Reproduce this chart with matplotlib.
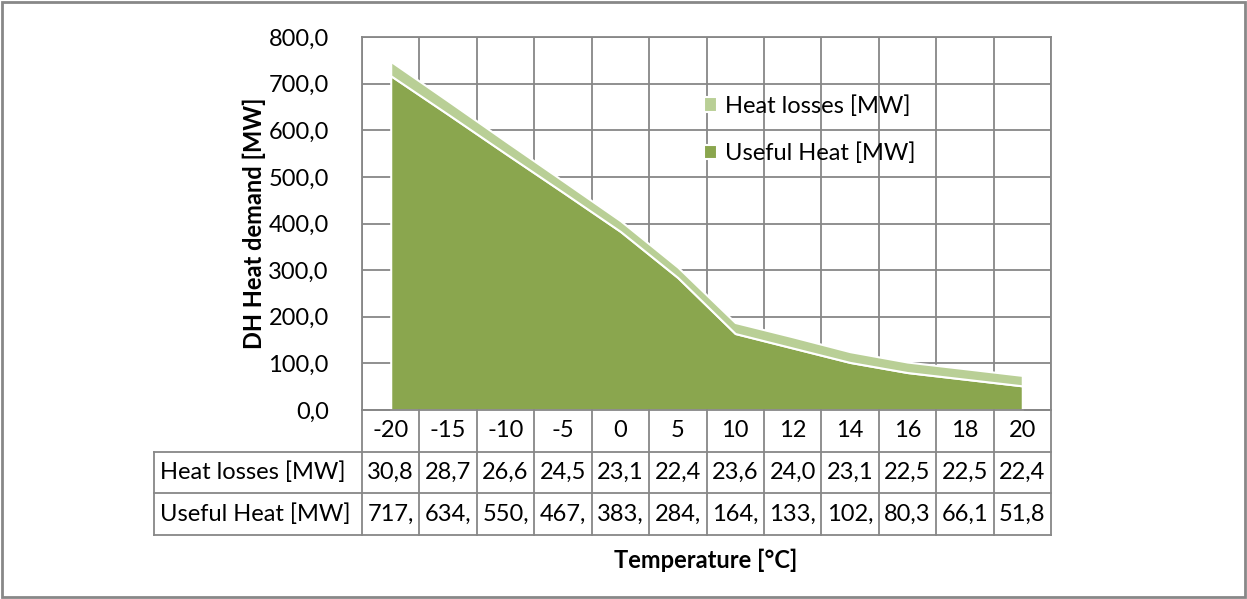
import numpy as np
import matplotlib.pyplot as plt
from matplotlib.patches import Rectangle
from matplotlib.ticker import FuncFormatter

plt.rcParams['font.family'] = ['Lato', 'DejaVu Sans']

temps = ["-20", "-15", "-10", "-5", "0", "5", "10", "12", "14", "16", "18", "20"]
heat_losses = [30.8, 28.7, 26.6, 24.5, 23.1, 22.4, 23.6, 24.0, 23.1, 22.5, 22.5, 22.4]
useful_heat = [717.0, 634.0, 550.0, 467.0, 383.0, 284.0, 164.0, 133.0, 102.0, 80.3, 66.1, 51.8]
row_names = ["Heat losses [MW]", "Useful Heat [MW]"]

W, H = 1247, 599
fig = plt.figure(figsize=(W / 100, H / 100), dpi=100)

def px(x0, y0, x1, y1):
    return [x0 / W, 1 - y1 / H, (x1 - x0) / W, (y1 - y0) / H]

grid_c = '#878787'
dark = '#8aa64e'
light = '#b9cf96'
fs = 17

ax = fig.add_axes(px(362, 37, 1051, 410))
x = np.arange(len(temps))
ax.stackplot(x, useful_heat, heat_losses, colors=[dark, light],
             edgecolor='white', linewidth=1.5,
             labels=[row_names[1], row_names[0]], zorder=3)
ax.set_xlim(-0.5, len(temps) - 0.5)
ax.set_ylim(0, 800)
ax.set_yticks(np.arange(0, 801, 100))
ax.yaxis.set_major_formatter(FuncFormatter(lambda v, p: f"{v:.1f}".replace('.', ',')))
ax.set_xticks(np.arange(-0.5, len(temps), 1))
ax.set_xticklabels([])
ax.tick_params(axis='x', length=0)
ax.tick_params(axis='y', length=0, pad=24, labelsize=fs)
ax.grid(True, color=grid_c, linewidth=1.3)
ax.set_axisbelow(True)
for s in ax.spines.values():
    s.set_color(grid_c)
    s.set_linewidth(1.3)
ax.set_ylabel("DH Heat demand [MW]", fontsize=fs, fontweight='bold')
ax.yaxis.set_label_coords((266 - 362) / 689, 0.5)

h, l = ax.get_legend_handles_labels()
ax.legend(h[::-1], l[::-1], loc='upper left', bbox_to_anchor=(0.465, 0.901),
          frameon=False, fontsize=fs, handlelength=0.55, handleheight=0.55,
          handletextpad=0.35, labelspacing=1.1)

# data table below the plot
tab = fig.add_axes(px(154, 410, 1051, 535))
left = -0.5 - 208 / ((1051 - 362) / len(temps))
right = len(temps) - 0.5
tab.set_xlim(left, right)
tab.set_ylim(3, 0)
tab.axis('off')
lw = 1.3
tab.plot([-0.5, right], [0, 0], color=grid_c, lw=lw, clip_on=False)
for r in (1, 2, 3):
    tab.plot([left, right], [r, r], color=grid_c, lw=lw, clip_on=False)
for k in range(len(temps) + 1):
    tab.plot([k - 0.5, k - 0.5], [0, 3], color=grid_c, lw=lw, clip_on=False)
tab.plot([left, left], [1, 3], color=grid_c, lw=lw, clip_on=False)

for i, t in enumerate(temps):
    tab.text(i, 0.5, t, ha='center', va='center', fontsize=fs)
    tab.text(i, 1.5, f"{heat_losses[i]:.1f}".replace('.', ',')[:4],
             ha='center', va='center', fontsize=fs)
    tab.text(i, 2.5, f"{useful_heat[i]:.1f}".replace('.', ',')[:4],
             ha='center', va='center', fontsize=fs)
for r, name in enumerate(row_names):
    tab.text(left + 0.1, 1.5 + r, name, ha='left', va='center', fontsize=fs)

fig.text(706 / W, 1 - 560 / H, "Temperature [°C]", ha='center', va='center',
         fontsize=fs, fontweight='bold')

fig.patches.append(Rectangle((0.002, 0.003), 0.996, 0.994, transform=fig.transFigure,
                             fill=False, edgecolor='#888888', linewidth=2))

fig.savefig("out.png", dpi=100)
